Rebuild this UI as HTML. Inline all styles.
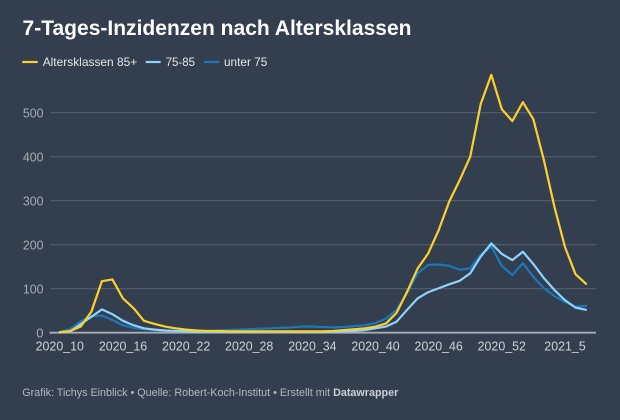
<!DOCTYPE html>
<html><head><meta charset="utf-8"><style>
html,body{margin:0;padding:0;background:#333e4f;}
svg{display:block;font-family:"Liberation Sans",sans-serif;}
</style></head><body>
<svg width="620" height="420" viewBox="0 0 620 420" xmlns="http://www.w3.org/2000/svg">
<rect width="620" height="420" fill="#333e4f"/>
<text x="22.5" y="35" font-size="21" font-weight="bold" fill="#ffffff" textLength="389" lengthAdjust="spacingAndGlyphs">7-Tages-Inzidenzen nach Altersklassen</text>
<line x1="22.3" y1="62" x2="37.7" y2="62" stroke="#fdd12b" stroke-width="2.2"/>
<text x="42.7" y="66" font-size="12" fill="#e4e6e9" textLength="94.6" lengthAdjust="spacingAndGlyphs">Altersklassen 85+</text>
<line x1="145.7" y1="62" x2="160.7" y2="62" stroke="#8fd2fb" stroke-width="2.2"/>
<text x="165.7" y="66" font-size="12" fill="#e4e6e9" textLength="29.3" lengthAdjust="spacingAndGlyphs">75-85</text>
<line x1="204" y1="62" x2="219.3" y2="62" stroke="#1b79b8" stroke-width="2.2"/>
<text x="224" y="66" font-size="12" fill="#e4e6e9" textLength="43.3" lengthAdjust="spacingAndGlyphs">unter 75</text>
<g stroke="#555f6d" stroke-width="1.2">
<line x1="50" y1="112.7" x2="596" y2="112.7"/>
<line x1="50" y1="156.7" x2="596" y2="156.7"/>
<line x1="50" y1="200.7" x2="596" y2="200.7"/>
<line x1="50" y1="244.7" x2="596" y2="244.7"/>
<line x1="50" y1="288.7" x2="596" y2="288.7"/>
</g>
<line x1="49.5" y1="332.7" x2="596" y2="332.7" stroke="#a9adb3" stroke-width="1.8"/>
<g font-size="13" fill="#a7adb5" text-anchor="end">
<text x="43.5" y="117.3" textLength="20.6" lengthAdjust="spacingAndGlyphs">500</text>
<text x="43.5" y="161.3" textLength="20.6" lengthAdjust="spacingAndGlyphs">400</text>
<text x="43.5" y="205.3" textLength="20.6" lengthAdjust="spacingAndGlyphs">300</text>
<text x="43.5" y="249.3" textLength="20.6" lengthAdjust="spacingAndGlyphs">200</text>
<text x="43.5" y="293.3" textLength="20.6" lengthAdjust="spacingAndGlyphs">100</text>
<text x="43.5" y="337.3">0</text>
</g>
<g font-size="13" fill="#cfd2d7" text-anchor="middle">
<text x="59.8" y="350.3" textLength="48.3" lengthAdjust="spacingAndGlyphs">2020_10</text>
<text x="123.0" y="350.3" textLength="48.3" lengthAdjust="spacingAndGlyphs">2020_16</text>
<text x="186.2" y="350.3" textLength="48.3" lengthAdjust="spacingAndGlyphs">2020_22</text>
<text x="249.2" y="350.3" textLength="48.3" lengthAdjust="spacingAndGlyphs">2020_28</text>
<text x="312.4" y="350.3" textLength="48.3" lengthAdjust="spacingAndGlyphs">2020_34</text>
<text x="375.5" y="350.3" textLength="48.3" lengthAdjust="spacingAndGlyphs">2020_40</text>
<text x="438.7" y="350.3" textLength="48.3" lengthAdjust="spacingAndGlyphs">2020_46</text>
<text x="501.8" y="350.3" textLength="48.3" lengthAdjust="spacingAndGlyphs">2020_52</text>
<text x="565" y="350.3" textLength="41.4" lengthAdjust="spacingAndGlyphs">2021_5</text>
</g>
<g transform="translate(59.8,332.7) scale(10.524,-0.44)" fill="none" stroke-linejoin="round" stroke-linecap="round">
<polyline vector-effect="non-scaling-stroke" stroke="#1b79b8" stroke-width="2.2" points="0,2 1,8 2,26 3,38 4,39 5,29 6,17 7,11 8,8 9,6 10,5 11,4 12,4 13,4 14,4 15,5 16,6 17,7 18,8 19,9 20,10 21,11 22,12 23,14 24,14 25,13 26,12 27,13 28,15 29,17 30,22 31,32 32,52 33,90 34,135 35,154 36,155 37,152 38,143 39,146 40,177 41,196 42,152 43,131 44,158 45,127 46,101 47,83 48,70 49,59 50,61"/>
<polyline vector-effect="non-scaling-stroke" stroke="#8fd2fb" stroke-width="2.2" points="0,1 1,3 2,20 3,36 4,53 5,42 6,27 7,17 8,10 9,7 10,5 11,4 12,3 13,2 14,2 15,2 16,2 17,2 18,2 19,2 20,2 21,2 22,2 23,2 24,2 25,2 26,2 27,3 28,4 29,6 30,10 31,14 32,25 33,52 34,78 35,92 36,101 37,110 38,118 39,135 40,173 41,203 42,179 43,165 44,184 45,156 46,124 47,97 48,74 49,57 50,52"/>
<polyline vector-effect="non-scaling-stroke" stroke="#fdd12b" stroke-width="2.2" points="0,1 1,4 2,14 3,48 4,117 5,121 6,78 7,56 8,27 9,20 10,14 11,10 12,7 13,5 14,4 15,4 16,3 17,3 18,3 19,3 20,3 21,3 22,3 23,3 24,3 25,3 26,4 27,6 28,8 29,10 30,14 31,21 32,45 33,93 34,146 35,180 36,233 37,298 38,347 39,400 40,520 41,586 42,508 43,481 44,524 45,485 46,392 47,286 48,195 49,133 50,111"/>
</g>
<text x="22.3" y="396" font-size="11" fill="#b3b9c2" textLength="376" lengthAdjust="spacingAndGlyphs">Grafik: Tichys Einblick • Quelle: Robert-Koch-Institut • Erstellt mit <tspan font-weight="bold" fill="#c9ced5">Datawrapper</tspan></text>
</svg>
</body></html>
